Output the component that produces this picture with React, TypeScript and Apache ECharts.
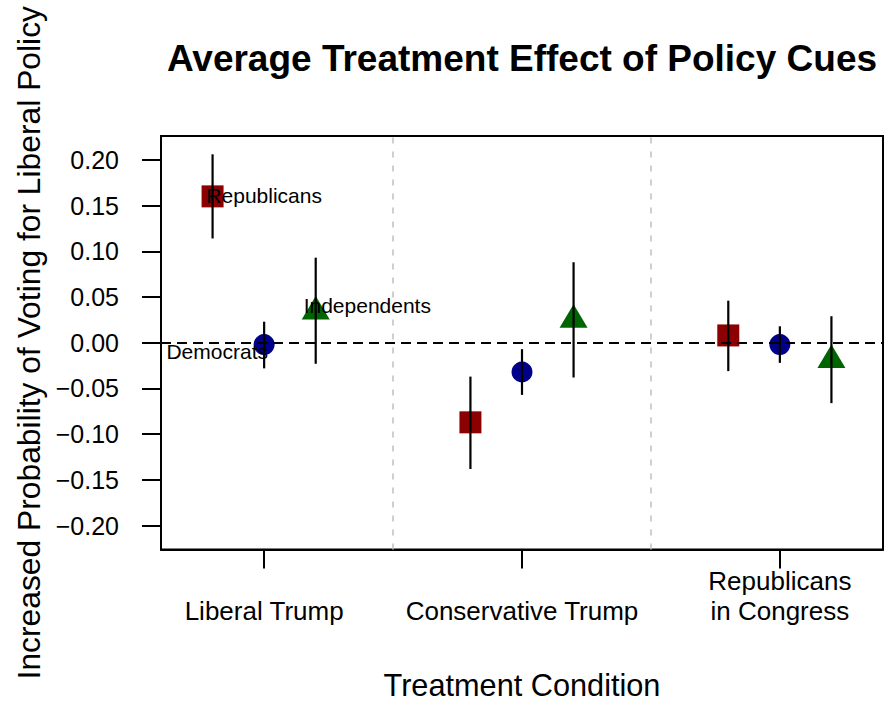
import React, { useEffect, useRef } from 'react';
import * as echarts from 'echarts';

const categories = ['Liberal Trump', 'Conservative Trump', 'Republicans\nin Congress'];
const yTicks = [-0.2, -0.15, -0.1, -0.05, 0, 0.05, 0.1, 0.15, 0.2];
const xTicks = [1, 2, 3];

const repEst = [0.160, -0.087, 0.008];
const repLo = [0.114, -0.138, -0.031];
const repHi = [0.206, -0.037, 0.046];

const demEst = [-0.002, -0.032, -0.002];
const demLo = [-0.028, -0.057, -0.022];
const demHi = [0.023, -0.007, 0.018];

const indEst = [0.034, 0.025, -0.019];
const indLo = [-0.023, -0.038, -0.066];
const indHi = [0.093, 0.088, 0.029];

const groupLabels = ['Republicans', 'Democrats', 'Independents'];
const labelX = [1.0, 0.818, 1.4];
const labelY = [0.161, -0.010, 0.041];

const FONT = '"Liberation Sans", Arial, Helvetica, sans-serif';

export default function App() {
  const ref = useRef<HTMLDivElement>(null);

  useEffect(() => {
    if (!ref.current) return;
    const chart = echarts.init(ref.current, null, { renderer: 'svg' });

    const parties = [
      { name: 'Republicans', est: repEst, lo: repLo, hi: repHi, dodge: -0.2, color: '#8B0000', symbol: 'rect', size: 22 as any, offset: [0, 0] },
      { name: 'Democrats', est: demEst, lo: demLo, hi: demHi, dodge: 0, color: '#00008B', symbol: 'circle', size: 21 as any, offset: [0, 0] },
      { name: 'Independents', est: indEst, lo: indLo, hi: indHi, dodge: 0.2, color: '#006400', symbol: 'triangle', size: [28, 23.5] as any, offset: [0, -4] },
    ];

    const errData: number[][] = [];
    parties.forEach((p) => {
      p.est.forEach((_, i) => {
        errData.push([i + 1 + p.dodge, p.lo[i], p.hi[i]]);
      });
    });

    const series: any[] = [
      {
        type: 'scatter',
        name: 'refs',
        data: [],
        silent: true,
        z: 1,
        markLine: {
          silent: true,
          symbol: ['none', 'none'],
          label: { show: false },
          animation: false,
          data: [
            { yAxis: 0, lineStyle: { color: '#000', width: 2, type: [10, 6] } },
            { xAxis: 1.5, lineStyle: { color: '#c0c0c0', width: 1.5, type: [6, 8] } },
            { xAxis: 2.5, lineStyle: { color: '#c0c0c0', width: 1.5, type: [6, 8] } },
          ],
        },
      },
      ...parties.map((p) => ({
        type: 'scatter',
        name: p.name,
        data: p.est.map((v, i) => [i + 1 + p.dodge, v]),
        symbol: p.symbol,
        symbolSize: p.size,
        symbolOffset: p.offset,
        itemStyle: { color: p.color, opacity: 1 },
        z: 2,
      })),
      {
        type: 'custom',
        name: 'ci',
        data: errData,
        encode: { x: 0, y: [1, 2] },
        z: 3,
        renderItem: (params: any, api: any) => {
          const top = api.coord([api.value(0), api.value(2)]);
          const bot = api.coord([api.value(0), api.value(1)]);
          return {
            type: 'line',
            shape: { x1: top[0], y1: top[1], x2: bot[0], y2: bot[1] },
            style: { stroke: '#000', lineWidth: 2.2 },
          };
        },
      },
      {
        type: 'scatter',
        name: 'labels',
        data: groupLabels.map((g, i) => [labelX[i], labelY[i], g]),
        symbol: 'circle',
        symbolSize: 0,
        z: 5,
        label: {
          show: true,
          position: 'inside',
          formatter: (p: any) => p.data[2],
          color: '#000',
          opacity: 1,
          textBorderWidth: 0,
          textBorderColor: 'transparent',
          textShadowBlur: 0,
          fontSize: 21,
          fontFamily: FONT,
          align: 'center',
          verticalAlign: 'middle',
        },
      },
    ];

    chart.setOption({
      animation: false,
      backgroundColor: '#fff',
      grid: {
        left: 161,
        right: 1,
        top: 136,
        bottom: 156,
        show: true,
        borderColor: '#000',
        borderWidth: 2,
        backgroundColor: 'transparent',
      },
      graphic: [
        {
          type: 'text',
          x: 522,
          y: 58,
          style: {
            text: 'Average Treatment Effect of Policy Cues',
            fontSize: 37,
            fontWeight: 'bold',
            fontFamily: FONT,
            fill: '#000',
            align: 'center',
            verticalAlign: 'middle',
          },
        },
      ],
      xAxis: {
        type: 'value',
        min: 0.6,
        max: 3.4,
        name: 'Treatment Condition',
        nameLocation: 'middle',
        nameGap: 136,
        nameTextStyle: { fontSize: 30.7, color: '#000', fontFamily: FONT, verticalAlign: 'middle' },
        splitLine: { show: false },
        axisLine: { show: true, onZero: false, lineStyle: { color: '#000', width: 2 } },
        axisTick: { show: true, customValues: xTicks, length: 19, inside: false, lineStyle: { color: '#000', width: 2 } },
        axisLabel: {
          show: true,
          customValues: xTicks,
          formatter: (v: number) => categories[Math.round(v) - 1] ?? '',
          fontSize: 26,
          lineHeight: 30,
          color: '#000',
          fontFamily: FONT,
          verticalAlign: 'bottom',
          margin: 76,
        },
      },
      yAxis: {
        type: 'value',
        min: -0.226,
        max: 0.226,
        name: 'Increased Probability of Voting for Liberal Policy',
        nameLocation: 'middle',
        nameGap: 132,
        nameTextStyle: { fontSize: 31.8, color: '#000', fontFamily: FONT, verticalAlign: 'middle' },
        splitLine: { show: false },
        axisLine: { show: true, onZero: false, lineStyle: { color: '#000', width: 2 } },
        axisTick: { show: true, customValues: yTicks, length: 19, inside: false, lineStyle: { color: '#000', width: 2 } },
        axisLabel: {
          show: true,
          customValues: yTicks,
          formatter: (v: number) => (v < -1e-9 ? '\u2212' : '') + Math.abs(v).toFixed(2),
          fontSize: 25,
          color: '#000',
          fontFamily: FONT,
          margin: 42,
        },
      },
      series,
    });

    return () => chart.dispose();
  }, []);

  return (
    <div
      ref={ref}
      style={{ position: 'fixed', left: 0, top: 0, width: 884, height: 706, background: '#fff' }}
    />
  );
}
